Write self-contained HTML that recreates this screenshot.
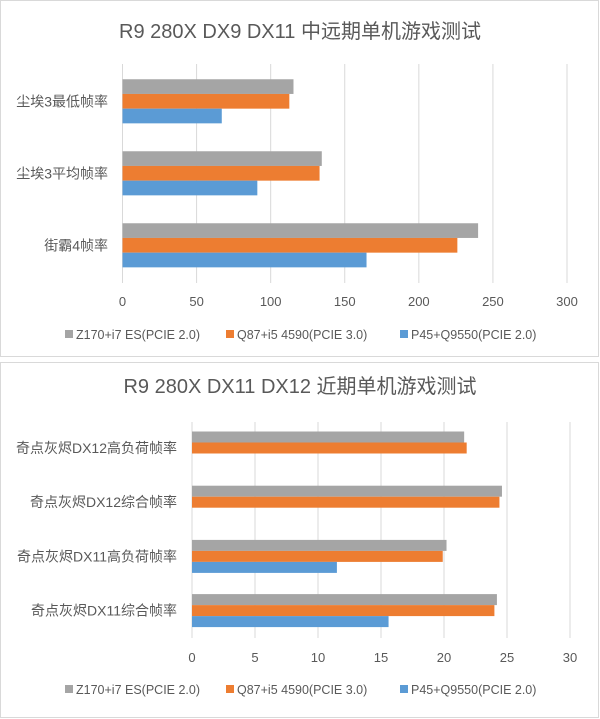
<!DOCTYPE html>
<html><head><meta charset="utf-8"><style>
html,body{margin:0;padding:0;background:#fff;}
svg{display:block;font-family:"Liberation Sans","Noto Sans CJK SC",sans-serif;}
</style></head><body>
<svg id="s" width="600" height="719" viewBox="0 0 600 719">
<rect x="0.5" y="0.5" width="598" height="356" fill="#fff" stroke="#d9d9d9"/>
<rect x="0.5" y="362.5" width="598" height="355" fill="#fff" stroke="#d9d9d9"/>
<text x="300" y="38" text-anchor="middle" font-size="20" fill="#595959">R9 280X DX9 DX11 中远期单机游戏测试</text>
<text x="300" y="393" text-anchor="middle" font-size="20" fill="#595959">R9 280X DX11 DX12 近期单机游戏测试</text>
</svg>
<script>
const seriesNames=["Z170+i7 ES(PCIE 2.0)","Q87+i5 4590(PCIE 3.0)","P45+Q9550(PCIE 2.0)"];
const colors=["#A5A5A5","#ED7D31","#5B9BD5"];
const topCategories=["尘埃3最低帧率","尘埃3平均帧率","街霸4帧率"];
const topZ170=[115.4,134.5,240];
const topQ87=[112.6,133,226];
const topP45=[67,91,164.7];
const topTicks=[0,50,100,150,200,250,300];
const botCategories=["奇点灰烬DX12高负荷帧率","奇点灰烬DX12综合帧率","奇点灰烬DX11高负荷帧率","奇点灰烬DX11综合帧率"];
const botZ170=[21.6,24.6,20.2,24.2];
const botQ87=[21.8,24.4,19.9,24.0];
const botP45=[0,0,11.5,15.6];
const botTicks=[0,5,10,15,20,25,30];

const svg=document.getElementById('s');
const NS='http://www.w3.org/2000/svg';
function mk(tag,attrs){const e=document.createElementNS(NS,tag);for(const k in attrs)e.setAttribute(k,attrs[k]);svg.appendChild(e);return e;}

function chart(o){
  const xs=v=>o.x0+(v-o.ticks[0])/(o.ticks[o.ticks.length-1]-o.ticks[0])*(o.x1-o.x0);
  o.ticks.forEach(t=>{
    const l=mk('line',{x1:xs(t),x2:xs(t),y1:o.gy0,y2:o.gy1,stroke:'#d9d9d9','stroke-width':1});
    
    
    const tx=mk('text',{x:xs(t),y:o.ty,'text-anchor':'middle','font-size':13,fill:'#595959'});
    tx.textContent=t;
    
    
  });
  const series=[o.a,o.b,o.c];
  o.cats.forEach((c,i)=>{
    const cy=o.cy0+i*o.step;
    const top=cy-1.5*o.bh;
    series.forEach((s,j)=>{
      if(s[i]<=0)return;
      const r=mk('rect',{x:xs(0),y:top+j*o.bh,width:xs(s[i])-xs(0),height:o.bh,fill:colors[j]});
      
      
    });
    const t=mk('text',{x:o.lx,y:cy+5,'text-anchor':'end','font-size':o.fs,fill:'#595959'});
    t.textContent=c;
    
    
  });
  const lxs=[65,226,400];
  seriesNames.forEach((n,j)=>{
    const r=mk('rect',{x:lxs[j],y:o.ly-5,width:8,height:8,fill:colors[j]});
    
    
    const t=mk('text',{x:lxs[j]+11,y:o.ly+4,'font-size':12.5,fill:'#595959'});
    t.textContent=n;
    
    
  });
}
chart({p:'top',x0:122.5,x1:567,gy0:64,gy1:283,ty:306,cats:topCategories,a:topZ170,b:topQ87,c:topP45,ticks:topTicks,cy0:101.3,step:72,bh:14.7,lx:108,fs:14,ly:335});
chart({p:'bottom',x0:192,x1:570,gy0:422,gy1:638,ty:662,cats:botCategories,a:botZ170,b:botQ87,c:botP45,ticks:botTicks,cy0:448,step:54.2,bh:11,lx:177,fs:14,ly:690});
</script>
</body></html>
